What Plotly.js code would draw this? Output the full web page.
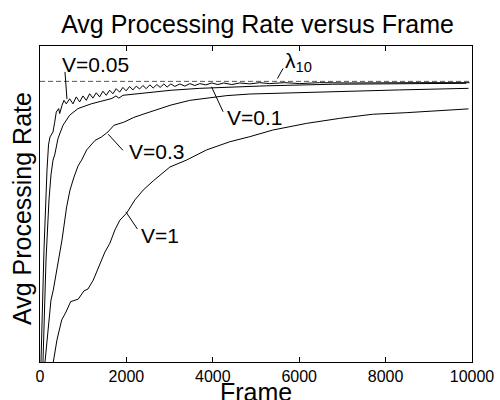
<!DOCTYPE html>
<html>
<head>
<meta charset="utf-8">
<script src="https://cdn.plot.ly/plotly-3.0.1.min.js"></script>
<style>html,body{margin:0;padding:0;background:#fff;}#chart{width:500px;height:400px;}</style>
</head>
<body>
<div id="chart"></div>
<script>
// Series: frame vs avg processing rate (normalised units, no y tick labels in source)
const v005Frame = [23,92,162,197,231,301,340,377,432,455,509,555,608,687,763,839,918,994,1071,1149,1225,1302,1380,1457,1533,1612,1688,1764,1843,1919,1995,2074,2150,2227,2305,2382,2458,2543,2620,2705,2782,2867,2943,3029,3121,3237,3353,3468,3584,3699,3838,3977,4116,4254,4439,4624,4855,5087,5318,5665,6012,6474,7168,7861,8786,9942];
const v005Rate  = [0,0.354,0.608,0.687,0.712,0.728,0.759,0.791,0.802,0.786,0.812,0.828,0.817,0.833,0.817,0.839,0.823,0.842,0.828,0.849,0.835,0.852,0.839,0.857,0.844,0.860,0.849,0.865,0.854,0.869,0.858,0.872,0.861,0.873,0.864,0.875,0.865,0.877,0.867,0.878,0.869,0.880,0.870,0.880,0.872,0.880,0.873,0.881,0.875,0.881,0.877,0.883,0.878,0.883,0.878,0.883,0.880,0.884,0.881,0.884,0.881,0.884,0.883,0.884,0.884,0.884];

const v01Frame = [69,139,208,254,301,340,416,532,687,879,1186,1496,1665,1757,1827,1919,2266,2652,3036,3699,4462,5242,6775,8324,9866];
const v01Rate  = [0,0.323,0.513,0.592,0.639,0.655,0.707,0.749,0.781,0.802,0.817,0.828,0.834,0.842,0.835,0.844,0.849,0.854,0.860,0.866,0.870,0.874,0.879,0.881,0.882];

const v03Frame = [116,185,254,308,423,509,617,694,786,879,964,1080,1272,1422,1572,1711,1942,2173,2405,2659,3029,3468,3861,4324,4855,6012,7168,8324,9919];
const v03Rate  = [0,0.101,0.196,0.228,0.313,0.386,0.491,0.544,0.585,0.620,0.639,0.671,0.701,0.712,0.728,0.749,0.759,0.774,0.785,0.797,0.813,0.828,0.835,0.843,0.848,0.853,0.858,0.861,0.866];

const v1Frame = [308,393,502,601,710,886,1017,1110,1232,1387,1503,1618,1734,1850,2005,2197,2388,2620,3006,3392,3854,4393,4855,5387,6166,6936,7699,8478,9249,9919];
const v1Rate  = [0,0.070,0.133,0.158,0.191,0.199,0.225,0.231,0.259,0.310,0.348,0.376,0.418,0.449,0.471,0.513,0.544,0.573,0.617,0.639,0.671,0.697,0.713,0.734,0.755,0.771,0.784,0.789,0.795,0.801];

const lambdaLevel = 0.888;
const frameRange = [0, 10000];
const xTicks = [0, 2000, 4000, 6000, 8000, 10000];

// Curve labels and their pointer lines (data coordinates)
const labelText = ['V=0.05', 'V=0.1', 'V=0.3', 'V=1', 'λ<sub>10</sub>'];
const labelX    = [462, 4277, 2004, 2289, 5618];
const labelY    = [0.940, 0.775, 0.666, 0.400, 0.948];
const ptrX0     = [578, 3970, 1577, 1988, 5626];
const ptrY0     = [0.918, 0.871, 0.721, 0.475, 0.929];
const ptrX1     = [624, 4238, 1919, 2254, 5496];
const ptrY1     = [0.832, 0.792, 0.670, 0.421, 0.897];

const titleText = 'Avg Processing Rate versus Frame';
const xTitleText = 'Frame';
const yTitleText = 'Avg Processing Rate';

const FONT = 'Liberation Sans, Arial, sans-serif';
const lineStyle = {color: '#000', width: 1};
const traces = [
  {x: v005Frame, y: v005Rate, mode: 'lines', line: lineStyle, name: 'V=0.05'},
  {x: v01Frame, y: v01Rate, mode: 'lines', line: lineStyle, name: 'V=0.1'},
  {x: v03Frame, y: v03Rate, mode: 'lines', line: lineStyle, name: 'V=0.3'},
  {x: v1Frame, y: v1Rate, mode: 'lines', line: lineStyle, name: 'V=1'},
  {x: frameRange, y: [lambdaLevel, lambdaLevel], mode: 'lines', line: {color: '#555', width: 1, dash: '5px,3px'}, name: 'λ10'}
];

const annotations = labelText.map((t, i) => ({
  x: labelX[i], y: labelY[i], xref: 'x', yref: 'y', text: t, showarrow: false,
  xanchor: 'left', yanchor: 'middle', font: {family: FONT, size: 21, color: '#000'}
}));
annotations.push({
  x: 0.5, y: -0.095, xref: 'paper', yref: 'paper', text: xTitleText, showarrow: false,
  xanchor: 'center', yanchor: 'middle', font: {family: FONT, size: 25, color: '#000'}
});
annotations.push({
  x: -0.0416, y: 0.484, xref: 'paper', yref: 'paper', text: yTitleText, showarrow: false,
  textangle: -90, xanchor: 'center', yanchor: 'middle', font: {family: FONT, size: 25, color: '#000'}
});

const shapes = labelText.map((t, i) => ({
  type: 'line', xref: 'x', yref: 'y', x0: ptrX0[i], y0: ptrY0[i], x1: ptrX1[i], y1: ptrY1[i],
  line: {color: '#000', width: 1}
}));

const layout = {
  width: 500, height: 400,
  margin: {l: 40, r: 28, t: 46, b: 38},
  paper_bgcolor: '#fff', plot_bgcolor: '#fff',
  showlegend: false,
  font: {family: FONT, color: '#000'},
  title: {text: titleText, font: {size: 25, color: '#000'}, x: 0.515, xanchor: 'center', y: 0.94, yanchor: 'middle'},
  xaxis: {
    range: frameRange, tickvals: xTicks, ticktext: xTicks.map(String),
    ticks: 'inside', ticklen: 5, tickcolor: '#000', tickwidth: 1,
    showline: true, linecolor: '#000', linewidth: 1, mirror: 'ticks',
    showgrid: false, zeroline: false, tickfont: {size: 16, color: '#000'}
  },
  yaxis: {
    range: [0, 1], showticklabels: false, ticks: '',
    showline: true, linecolor: '#000', linewidth: 1, mirror: true,
    showgrid: false, zeroline: false
  },
  annotations: annotations,
  shapes: shapes
};

Plotly.newPlot('chart', traces, layout, {staticPlot: true, displayModeBar: false});
</script>
</body>
</html>
